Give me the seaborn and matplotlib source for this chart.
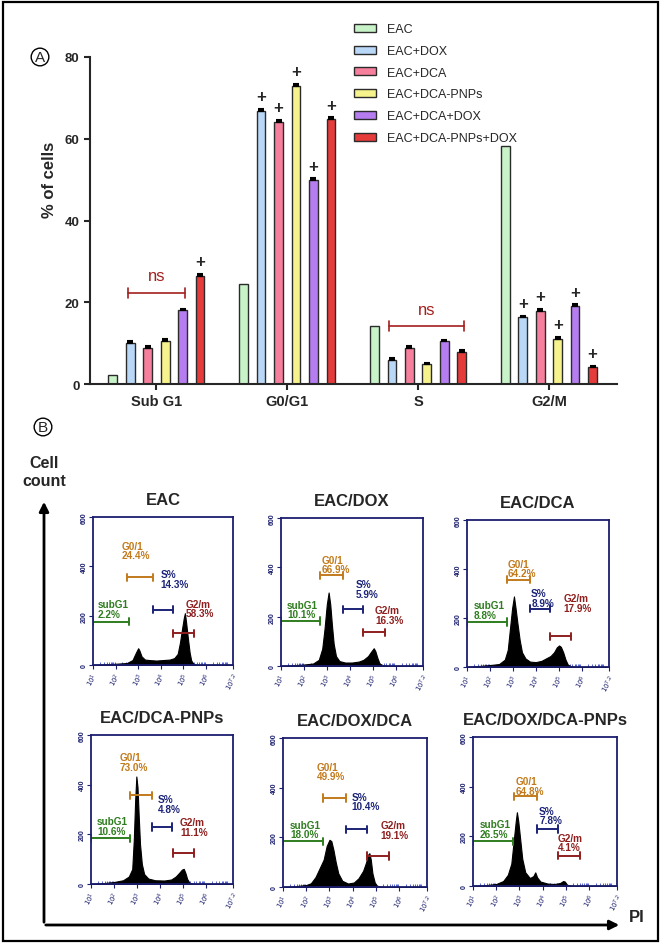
import pandas as pd
import seaborn as sns
import matplotlib.pyplot as plt
from matplotlib.patches import Rectangle

# ---- panel A data (% of cells) ----
phases = ['Sub G1', 'G0/G1', 'S', 'G2/M']
groups = ['EAC', 'EAC+DOX', 'EAC+DCA', 'EAC+DCA-PNPs', 'EAC+DCA+DOX', 'EAC+DCA-PNPs+DOX']
colors = ['#c8f3c8', '#b9d7f7', '#f57f9c', '#f6f38d', '#b67df0', '#e63b3b']

sub_g1 = [2.2, 10.1, 8.8, 10.6, 18.0, 26.5]
g0_g1 = [24.4, 66.9, 64.2, 73.0, 49.9, 64.8]
s_phase = [14.3, 5.9, 8.9, 4.8, 10.4, 7.8]
g2_m = [58.3, 16.3, 17.9, 11.1, 19.1, 4.1]
sem = [0.0, 0.4, 0.4, 0.4, 0.4, 0.4]

# "+" significance marks per phase
sub_g1_plus = [0, 0, 0, 0, 0, 1]
g0_g1_plus = [0, 1, 1, 1, 1, 1]
s_plus = [0, 0, 0, 0, 0, 0]
g2_m_plus = [0, 1, 1, 1, 1, 1]

# "ns" brackets: phase index, first group, last group, height
ns_phase = [0, 2]
ns_first = [1, 1]
ns_last = [4, 5]
ns_height = [22.3, 14.2]

# ---- panel B data (flow cytometry histograms, x = log10 PI, y = count) ----
titles = ['EAC', 'EAC/DOX', 'EAC/DCA', 'EAC/DCA-PNPs', 'EAC/DOX/DCA', 'EAC/DOX/DCA-PNPs']

eac_x = [1.0, 1.5, 2.0, 2.5, 2.75, 2.9, 3.0, 3.05, 3.15, 3.3, 3.5, 3.8, 4.1, 4.4, 4.6, 4.75,
         4.85, 4.95, 5.02, 5.07, 5.12, 5.2, 5.28, 5.35, 5.45, 5.6, 7.2]
eac_y = [0, 2, 5, 8, 20, 50, 68, 60, 35, 22, 20, 18, 20, 22, 28, 45,
         90, 150, 190, 210, 175, 110, 50, 18, 5, 0, 0]
dox_x = [1.0, 1.5, 2.0, 2.4, 2.65, 2.8, 2.9, 3.0, 3.08, 3.15, 3.22, 3.3, 3.4, 3.55, 3.8, 4.1,
         4.4, 4.6, 4.8, 4.95, 5.05, 5.12, 5.2, 5.3, 5.45, 5.7, 7.2]
dox_y = [0, 3, 6, 10, 25, 70, 150, 250, 298, 250, 170, 90, 40, 20, 14, 14,
         18, 25, 40, 60, 72, 60, 35, 10, 3, 0, 0]
dca_x = [1.0, 1.5, 2.0, 2.4, 2.65, 2.78, 2.88, 2.97, 3.05, 3.12, 3.2, 3.3, 3.4, 3.55, 3.75, 4.0,
         4.25, 4.45, 4.65, 4.8, 4.92, 5.02, 5.1, 5.2, 5.3, 5.4, 5.55, 5.8, 7.2]
dca_y = [0, 4, 8, 12, 30, 70, 160, 240, 288, 240, 180, 110, 60, 35, 22, 20,
         25, 35, 45, 60, 80, 88, 82, 60, 30, 10, 2, 0, 0]
pnp_x = [1.0, 1.5, 2.0, 2.4, 2.65, 2.8, 2.87, 2.93, 2.98, 3.03, 3.08, 3.14, 3.22, 3.32, 3.5, 3.8,
         4.2, 4.5, 4.7, 4.85, 4.97, 5.05, 5.12, 5.2, 5.3, 5.5, 7.2]
pnp_y = [0, 3, 8, 15, 30, 60, 180, 340, 433, 390, 280, 160, 80, 40, 22, 15,
         14, 18, 30, 45, 58, 61, 45, 20, 5, 0, 0]
dox_dca_x = [1.0, 1.5, 2.0, 2.2, 2.4, 2.6, 2.75, 2.88, 3.0, 3.08, 3.17, 3.27, 3.38, 3.55, 3.8, 4.05,
             4.25, 4.45, 4.58, 4.66, 4.72, 4.78, 4.85, 4.95, 5.05, 5.3, 7.2]
dox_dca_y = [0, 3, 8, 15, 40, 80, 110, 165, 190, 185, 150, 100, 55, 25, 14, 18,
             35, 65, 100, 130, 136, 110, 55, 18, 5, 0, 0]
dox_pnp_x = [1.0, 1.5, 2.0, 2.3, 2.5, 2.65, 2.75, 2.84, 2.89, 2.95, 3.03, 3.12, 3.25, 3.45, 3.6, 3.68,
             3.76, 3.9, 4.2, 4.5, 4.75, 4.88, 4.95, 5.05, 5.3, 7.2]
dox_pnp_y = [0, 3, 8, 20, 45, 90, 180, 260, 297, 260, 190, 110, 55, 32, 40, 55,
             35, 18, 10, 8, 12, 20, 18, 5, 0, 0]
hist_x = [eac_x, dox_x, dca_x, pnp_x, dox_dca_x, dox_pnp_x]
hist_y = [eac_y, dox_y, dca_y, pnp_y, dox_dca_y, dox_pnp_y]

# gates: subG1, G0/1, S, G2/m
gate_names = ['subG1', 'G0/1', 'S%', 'G2/m']
gate_colors = ['#2f7d1f', '#c27a1c', '#1c2478', '#8e1f1f']
gate_start = [[1.0, 2.52, 3.67, 4.54], [1.0, 2.71, 3.7, 4.58], [1.0, 2.74, 3.73, 4.61],
              [1.0, 2.69, 3.67, 4.57], [1.0, 2.73, 3.71, 4.6], [1.0, 2.78, 3.77, 4.66]]
gate_end = [[2.61, 3.67, 4.54, 5.47], [2.71, 3.7, 4.58, 5.54], [2.74, 3.73, 4.61, 5.56],
            [2.69, 3.66, 4.54, 5.5], [2.73, 3.71, 4.6, 5.55], [2.71, 3.74, 4.66, 5.6]]
gate_level = [[176, 355, 224, 128], [182, 367, 230, 137], [184, 357, 238, 125],
              [184, 357, 230, 125], [184, 358, 232, 125], [180, 361, 230, 122]]
label_x = [[1.2, 2.26, 4.0, 5.1], [1.26, 2.78, 4.27, 5.1], [1.3, 2.78, 3.8, 5.22],
           [1.27, 2.26, 3.93, 4.89], [1.3, 2.46, 3.96, 5.21], [1.3, 2.85, 3.85, 4.66]]
label_y = [[188, 425, 310, 190], [190, 372, 272, 168], [192, 362, 242, 222],
           [193, 452, 282, 190], [192, 425, 305, 190], [190, 364, 245, 135]]

W, H = 661, 945


def px_rect(left, top, right, bottom):
    return [left / W, 1 - bottom / H, (right - left) / W, (bottom - top) / H]


sns.set_style('ticks')
plt.rcParams['font.family'] = ['Liberation Sans', 'DejaVu Sans']

fig = plt.figure(figsize=(W / 100, H / 100), dpi=100)

# overlay for frame, arrows and letters
bg = fig.add_axes([0, 0, 1, 1], zorder=-1)
bg.set_xlim(0, W)
bg.set_ylim(H, 0)
bg.axis('off')
bg.add_patch(Rectangle((3, 3), 655, 939, fill=False, ec='black', lw=1.6))
for letter, (cx, cy) in zip(['A', 'B'], [(40, 58), (43, 428)]):
    bg.text(cx, cy, letter, ha='center', va='center', fontsize=11,
            bbox=dict(boxstyle='circle,pad=0.12', fc='white', ec='black', lw=1))
bg.text(44, 472, 'Cell\ncount', ha='center', va='center', fontsize=11.5,
        fontweight='bold', linespacing=1.25)
bg.annotate('', xy=(44, 500), xytext=(44, 926),
            arrowprops=dict(arrowstyle='-|>', lw=2, color='black', mutation_scale=14))
bg.annotate('', xy=(622, 926), xytext=(43, 926),
            arrowprops=dict(arrowstyle='-|>', lw=2, color='black', mutation_scale=14))
bg.text(637, 918, 'PI', ha='center', va='center', fontsize=12, fontweight='bold')

# ---- panel A ----
df = pd.DataFrame({
    'phase': [p for p in phases for _ in groups],
    'group': groups * len(phases),
    'pct': sub_g1 + g0_g1 + s_phase + g2_m,
})
plus_flags = [sub_g1_plus, g0_g1_plus, s_plus, g2_m_plus]

ax = fig.add_axes(px_rect(90, 58, 617, 385))
sns.barplot(data=df, x='phase', y='pct', hue='group', order=phases, hue_order=groups,
            palette=colors, saturation=1, width=0.8, gap=0.5, edgecolor='#2b2b2b',
            linewidth=1, errorbar=None, ax=ax)

bar_containers = list(ax.containers)
centers = []
for gi, cont in enumerate(bar_containers):
    row = []
    for pi, bar in enumerate(cont.patches):
        xc = bar.get_x() + bar.get_width() / 2
        h = bar.get_height()
        row.append(xc)
        if sem[gi] > 0:
            ax.errorbar(xc, h, yerr=[[0], [sem[gi]]], fmt='none', ecolor='black',
                        elinewidth=1.5, capsize=2.5, capthick=1.5)
        if plus_flags[pi][gi]:
            ax.text(xc, h + 3.4, '+', ha='center', va='center', fontsize=12, fontweight='bold')
    centers.append(row)

ns_color = '#a3201f'
for p, a, b, hgt in zip(ns_phase, ns_first, ns_last, ns_height):
    x0 = centers[a][p] - 0.02
    x1 = centers[b][p] + 0.02
    ax.plot([x0, x1], [hgt, hgt], color=ns_color, lw=1.2)
    ax.plot([x0, x0], [hgt - 1.2, hgt + 1.2], color=ns_color, lw=1.2)
    ax.plot([x1, x1], [hgt - 1.2, hgt + 1.2], color=ns_color, lw=1.2)
    ax.text((x0 + x1) / 2, hgt + 2.3, 'ns', color=ns_color, ha='center', va='bottom', fontsize=12)

ax.set_ylim(0, 80)
ax.set_xlim(-0.508, 3.52)
ax.set_yticks([0, 20, 40, 60, 80])
ax.set_xlabel('')
ax.set_ylabel('')
sns.despine(ax=ax)
for sp in ['left', 'bottom']:
    ax.spines[sp].set_linewidth(1.5)
ax.tick_params(axis='both', width=1.5, length=4, labelsize=9.5)
for t in ax.get_xticklabels() + ax.get_yticklabels():
    t.set_fontweight('bold')
ax.tick_params(axis='x', labelsize=10.5)
fig.text(50 / W, 1 - 180 / H, '% of cells', rotation=90, ha='center', va='center',
         fontsize=12, fontweight='bold')

leg = ax.legend(loc='upper left', bbox_to_anchor=(343 / W, 1 - 13 / H),
                bbox_transform=fig.transFigure, frameon=False, fontsize=9,
                handlelength=1.7, handleheight=0.6, handletextpad=0.9, labelspacing=0.78)
for hnd in leg.legend_handles:
    hnd.set_edgecolor('#2b2b2b')

# ---- panel B ----
hist_rects = [(93, 518, 233, 666), (281, 519, 423, 667), (467, 521, 609, 668),
              (91, 736, 233, 885), (283, 739, 427, 888), (473, 738, 617, 887)]
navy = '#1b1f6e'
phase_vals = [sub_g1, g0_g1, s_phase, g2_m]
minor = [d + m for d in range(1, 8) for m in [0.301, 0.477, 0.602, 0.699, 0.778, 0.845, 0.903, 0.954]]
minor = [m for m in minor if m < 7.2]

for k, rect in enumerate(hist_rects):
    hax = fig.add_axes(px_rect(*rect))
    hax.fill_between(hist_x[k], hist_y[k], color='black', lw=0.8)
    for g in range(4):
        c = gate_colors[g]
        s, e, y = gate_start[k][g], gate_end[k][g], gate_level[k][g]
        hax.plot([s, e], [y, y], color=c, lw=1.4)
        hax.plot([s, s], [y - 15, y + 15], color=c, lw=1.4)
        hax.plot([e, e], [y - 15, y + 15], color=c, lw=1.4)
        hax.text(label_x[k][g], label_y[k][g], f'{gate_names[g]}\n{phase_vals[g][k]:.1f}%',
                 color=c, fontsize=7.2, fontweight='bold', ha='left', va='bottom',
                 linespacing=0.95)
    hax.set_xlim(1, 7.2)
    hax.set_ylim(0, 600)
    hax.set_xticks([1, 2, 3, 4, 5, 6, 7.2])
    hax.set_xticklabels([r'$10^{1}$', r'$10^{2}$', r'$10^{3}$', r'$10^{4}$', r'$10^{5}$',
                         r'$10^{6}$', r'$10^{7.2}$'], rotation=60, fontsize=5, color=navy)
    hax.set_xticks(minor, minor=True)
    hax.set_yticks([0, 200, 400, 600])
    hax.set_yticklabels(['0', '200', '400', '600'], rotation=90, va='center',
                        fontsize=5, color=navy, fontweight='bold')
    hax.tick_params(axis='x', which='major', length=3, color=navy, pad=1)
    hax.tick_params(axis='x', which='minor', length=2.5, color='#3a4bd0', direction='in')
    hax.tick_params(axis='y', length=3, color=navy, pad=1)
    for sp in hax.spines.values():
        sp.set_color(navy)
        sp.set_linewidth(1.3)
    hax.set_title(titles[k], fontsize=12, fontweight='bold', pad=9)

fig.savefig('out.png', dpi=100)
